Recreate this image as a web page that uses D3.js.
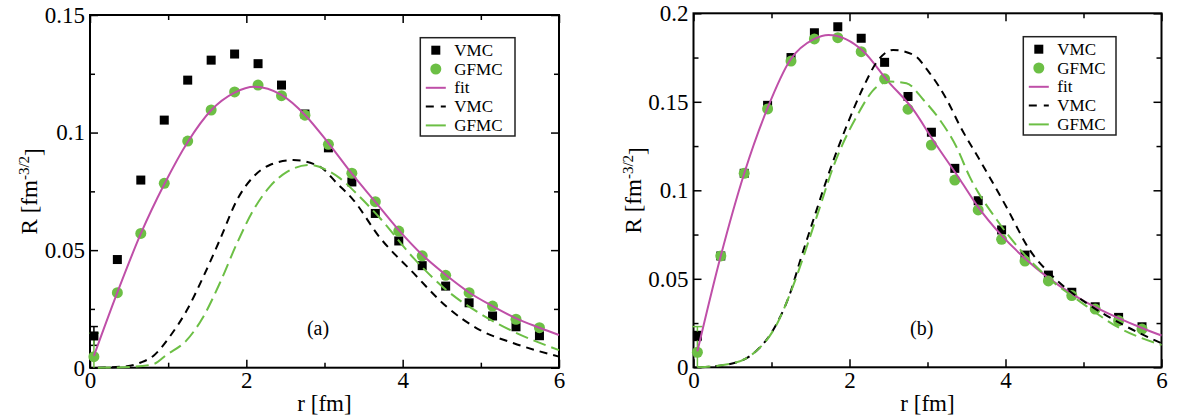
<!DOCTYPE html>
<html><head><meta charset="utf-8">
<script src="https://cdn.jsdelivr.net/npm/d3@7"></script>
<style>
body{margin:0;background:#fff}
svg{display:block}
text{font-family:"Liberation Serif","DejaVu Serif",serif;fill:#000}
</style>
</head><body>
<svg id="c" width="1178" height="419" font-family="Liberation Serif, DejaVu Serif, serif"></svg>
<script>
// ---------- data ----------
const rPoints = [0.05,0.35,0.65,0.95,1.25,1.55,1.85,2.15,2.45,2.75,3.05,3.35,3.65,3.95,4.25,4.55,4.85,5.15,5.45,5.75];

// panel (a)
const vmcA  = [0.0135,0.046,0.0798,0.1053,0.1223,0.1308,0.1334,0.1293,0.1202,0.1079,0.0935,0.079,0.0656,0.0539,0.0434,0.0347,0.0276,0.022,0.0174,0.0136];
const gfmcA = [0.0047,0.0319,0.0571,0.0784,0.0964,0.1096,0.1173,0.1202,0.1157,0.1074,0.095,0.0827,0.0706,0.0581,0.0476,0.0393,0.0319,0.0262,0.0206,0.017];
const vmcErrA  = [0.004,0,0,0,0,0,0,0,0,0,0,0,0,0,0,0,0,0,0,0];
const gfmcErrA = [0.010,0,0,0,0,0,0,0,0,0,0,0,0,0,0,0,0,0,0,0];
const fitRA  = [0.05,0.35,0.65,0.95,1.25,1.55,1.85,2.1,2.45,2.75,3.05,3.35,3.65,3.95,4.25,4.55,4.85,5.15,5.45,5.75,6.0];
const fitA   = [0.005,0.032,0.057,0.078,0.096,0.1095,0.117,0.1195,0.116,0.1075,0.0955,0.0825,0.0705,0.0585,0.048,0.0395,0.032,0.0262,0.021,0.017,0.0139];
const vmcCurveRA = [0.1,0.47,0.65,0.81,1.02,1.24,1.45,1.66,1.88,2.09,2.3,2.6,2.94,3.16,3.37,3.7,4.14,4.56,4.99,5.42,6.0];
const vmcCurveA  = [0,0.0006,0.0022,0.0050,0.0132,0.0245,0.0387,0.0543,0.0713,0.0812,0.0862,0.0883,0.0855,0.0784,0.0713,0.0557,0.0402,0.026,0.016,0.0104,0.0047];
const gfmcCurveRA = [0.1,0.5,0.81,0.98,1.24,1.45,1.66,1.88,2.09,2.3,2.52,2.81,3.07,3.2,3.45,3.7,4.14,4.56,4.99,5.42,6.0];
const gfmcCurveA  = [0,0.0003,0.0015,0.0055,0.0118,0.0217,0.0359,0.0529,0.067,0.077,0.0833,0.0862,0.0833,0.0805,0.0727,0.064,0.0466,0.033,0.023,0.0153,0.0075];

// panel (b)
const vmcB  = [0.0177,0.0629,0.1096,0.148,0.175,0.189,0.1924,0.1859,0.1723,0.153,0.1328,0.1124,0.0941,0.0776,0.0634,0.0521,0.0424,0.0342,0.0282,0.0229];
const gfmcB = [0.0085,0.0629,0.1096,0.146,0.173,0.1855,0.1862,0.1783,0.163,0.1458,0.1256,0.1058,0.0889,0.0723,0.06,0.0488,0.0405,0.0329,0.0263,0.0216];
const vmcErrB  = [0.0025,0,0,0,0,0,0,0,0,0,0,0,0,0,0,0,0,0,0,0];
const gfmcErrB = [0.0145,0,0,0,0,0,0,0,0,0,0,0,0,0,0,0,0,0,0,0];
const fitRB  = [0.05,0.35,0.65,0.95,1.24,1.55,1.73,2.18,2.48,2.82,3.07,3.42,3.65,3.95,4.25,4.55,4.85,5.15,5.45,5.75,6.0];
const fitB   = [0.009,0.063,0.1095,0.1465,0.1736,0.1855,0.1877,0.1784,0.1623,0.1454,0.1284,0.1058,0.0905,0.0745,0.0615,0.0505,0.0415,0.034,0.0278,0.0222,0.018];
const vmcCurveRB = [0.1,0.51,0.77,1.07,1.24,1.37,1.536,1.75,1.96,2.18,2.35,2.56,2.82,3.03,3.25,3.42,3.67,4.01,4.31,4.61,5.04,5.47,6.0];
const vmcCurveB  = [0,0.0023,0.0079,0.0249,0.042,0.0606,0.0832,0.1115,0.136,0.1585,0.1725,0.1793,0.1765,0.1661,0.151,0.136,0.1171,0.0907,0.0663,0.0512,0.0362,0.0249,0.0136];
const gfmcCurveRB = [0.05,0.51,0.77,1.07,1.24,1.58,1.79,2.09,2.35,2.52,2.73,2.95,3.16,3.37,3.54,3.89,4.23,4.53,4.96,5.47,6.0];
const gfmcCurveB  = [0,0.0023,0.0079,0.0245,0.0418,0.0851,0.113,0.1416,0.1585,0.1614,0.1605,0.151,0.1397,0.1246,0.1077,0.0832,0.0644,0.0512,0.037,0.022,0.0126];

// ticks and labels
const xTicks = [0,2,4,6];
const xMinorTicks = [1,3,5];
const yTicksA = [0,0.05,0.1,0.15];
const yMinorA = [0.025,0.075,0.125];
const yTicksB = [0,0.05,0.1,0.15,0.2];
const yMinorB = [0.025,0.075,0.125,0.175];
const legendLabels = ["VMC","GFMC","fit","VMC","GFMC"];
const panelLabels = ["(a)","(b)"];
const xTitle = "r [fm]";

// ---------- style ----------
const C_BLACK = "#000";
const C_GREEN = "#6cbf45";
const C_MAG = "#bf4fa8";
const FONT = 23;
const FAMILY = '"Liberation Serif","DejaVu Serif",serif';

const svg = d3.select("#c");

function zip(xs, ys){ return xs.map((x,i)=>({x, y: ys[i]})); }

function drawPanel(cfg){
  const x = d3.scaleLinear().domain([0,6]).range([cfg.x0, cfg.x1]);
  const y = d3.scaleLinear().domain([0,cfg.ymax]).range([cfg.y0, cfg.y1]);
  const g = svg.append("g");

  const styleAxis = sel => {
    sel.attr("font-family", FAMILY);
    sel.select(".domain").remove();
    sel.selectAll("line").attr("stroke","#000").attr("stroke-width",1.5);
    sel.selectAll("text").style("font-size",FONT+"px").style("font-family",FAMILY);
  };
  g.append("g").attr("transform",`translate(0,${cfg.y0})`)
    .call(d3.axisBottom(x).tickValues(xTicks).tickSize(-8).tickPadding(4).tickFormat(d3.format("d"))).call(styleAxis);
  g.append("g").attr("transform",`translate(0,${cfg.y0})`)
    .call(d3.axisBottom(x).tickValues(xMinorTicks).tickSize(-5).tickFormat("")).call(styleAxis);
  g.append("g").attr("transform",`translate(0,${cfg.y1})`)
    .call(d3.axisTop(x).tickValues(xTicks).tickSize(-8).tickFormat("")).call(styleAxis);
  g.append("g").attr("transform",`translate(0,${cfg.y1})`)
    .call(d3.axisTop(x).tickValues(xMinorTicks).tickSize(-5).tickFormat("")).call(styleAxis);
  g.append("g").attr("transform",`translate(${cfg.x0},0)`)
    .call(d3.axisLeft(y).tickValues(cfg.yTicks).tickSize(-8).tickPadding(5).tickFormat(d => d===0 ? "0" : String(d))).call(styleAxis);
  g.append("g").attr("transform",`translate(${cfg.x0},0)`)
    .call(d3.axisLeft(y).tickValues(cfg.yMinor).tickSize(-5).tickFormat("")).call(styleAxis);
  g.append("g").attr("transform",`translate(${cfg.x1},0)`)
    .call(d3.axisRight(y).tickValues(cfg.yTicks).tickSize(-8).tickFormat("")).call(styleAxis);
  g.append("g").attr("transform",`translate(${cfg.x1},0)`)
    .call(d3.axisRight(y).tickValues(cfg.yMinor).tickSize(-5).tickFormat("")).call(styleAxis);

  g.append("rect").attr("x",cfg.x0).attr("y",cfg.y1).attr("width",cfg.x1-cfg.x0).attr("height",cfg.y0-cfg.y1)
    .attr("fill","none").attr("stroke","#000").attr("stroke-width",2);

  const vmcPts = zip(rPoints, cfg.vmc);
  const gfmcPts = zip(rPoints, cfg.gfmc);

  const drawErr = (pts, errs, color, cap) => {
    pts.forEach((p,i) => {
      const e = errs[i]; if(!e) return;
      const lo = Math.max(0, p.y - e), hi = p.y + e;
      g.append("line").attr("x1",x(p.x)).attr("x2",x(p.x)).attr("y1",y(lo)).attr("y2",y(hi)).attr("stroke",color).attr("stroke-width",1.5);
      g.append("line").attr("x1",x(p.x)-cap).attr("x2",x(p.x)+cap).attr("y1",y(hi)).attr("y2",y(hi)).attr("stroke",color).attr("stroke-width",1.5);
      if (p.y - e > 0) g.append("line").attr("x1",x(p.x)-cap).attr("x2",x(p.x)+cap).attr("y1",y(lo)).attr("y2",y(lo)).attr("stroke",color).attr("stroke-width",1.5);
    });
  };
  drawErr(vmcPts, cfg.vmcErr, C_BLACK, 4);
  drawErr(gfmcPts, cfg.gfmcErr, C_GREEN, 5);

  const S = 9;
  g.selectAll(".sq").data(vmcPts).join("rect").attr("class","sq")
    .attr("x",d=>x(d.x)-S/2).attr("y",d=>y(d.y)-S/2).attr("width",S).attr("height",S).attr("fill",C_BLACK);
  g.selectAll(".ci").data(gfmcPts).join("circle").attr("class","ci")
    .attr("cx",d=>x(d.x)).attr("cy",d=>y(d.y)).attr("r",5.5).attr("fill",C_GREEN);

  const line = d3.line().x(d=>x(d.x)).y(d=>y(d.y)).curve(d3.curveMonotoneX);
  g.append("path").attr("d",line(zip(cfg.fitR,cfg.fit))).attr("fill","none").attr("stroke",C_MAG).attr("stroke-width",2);
  g.append("path").attr("d",line(zip(cfg.vmcCR,cfg.vmcC))).attr("fill","none").attr("stroke",C_BLACK).attr("stroke-width",2).attr("stroke-dasharray","8,6");
  g.append("path").attr("d",line(zip(cfg.gfmcCR,cfg.gfmcC))).attr("fill","none").attr("stroke",C_GREEN).attr("stroke-width",2).attr("stroke-dasharray","13,6");

  g.append("text").attr("x",cfg.labX).attr("y",cfg.labY).attr("text-anchor","middle").attr("dominant-baseline","central")
    .style("font-size","20px").text(cfg.label);

  g.append("text").attr("x",(cfg.x0+cfg.x1)/2).attr("y",411).attr("text-anchor","middle").style("font-size",FONT+"px").text(xTitle);

  const yt = g.append("text").attr("transform",`translate(${cfg.ytX},${(cfg.y0+cfg.y1)/2}) rotate(-90)`)
    .attr("text-anchor","middle").style("font-size",FONT+"px");
  yt.append("tspan").text("R [fm");
  yt.append("tspan").attr("dy","-0.55em").style("font-size","15px").text("-3/2");
  yt.append("tspan").attr("dy","0.55em").text("]");

  const L = cfg.legend;
  g.append("rect").attr("x",L.x).attr("y",L.y).attr("width",L.w).attr("height",L.h)
    .attr("fill","#fff").attr("stroke","#222").attr("stroke-width",1.5);
  legendLabels.forEach((lab,i) => {
    const ly = L.y + 12.5 + i*18.8;
    const sx = L.x + 15.5;
    if (i===0) g.append("rect").attr("x",sx-4.5).attr("y",ly-4.5).attr("width",9).attr("height",9).attr("fill",C_BLACK);
    if (i===1) g.append("circle").attr("cx",sx).attr("cy",ly).attr("r",5.5).attr("fill",C_GREEN);
    if (i>=2) {
      const col = i===2 ? C_MAG : (i===3 ? C_BLACK : C_GREEN);
      const ln = g.append("line").attr("x1",L.x+5.5).attr("x2",L.x+25.5).attr("y1",ly).attr("y2",ly).attr("stroke",col).attr("stroke-width",2);
      if (i===3) ln.attr("stroke-dasharray","8,7");
    }
    g.append("text").attr("x",L.x+34).attr("y",ly).attr("dominant-baseline","central").style("font-size","17px").text(lab);
  });
}

drawPanel({
  x0:90, x1:559, y0:367.7, y1:15, ymax:0.15, yTicks:yTicksA, yMinor:yMinorA,
  vmc:vmcA, gfmc:gfmcA, vmcErr:vmcErrA, gfmcErr:gfmcErrA,
  fitR:fitRA, fit:fitA, vmcCR:vmcCurveRA, vmcC:vmcCurveA, gfmcCR:gfmcCurveRA, gfmcC:gfmcCurveA,
  label:panelLabels[0], labX:318, labY:328, ytX:37,
  legend:{x:420.3, y:37.7, w:94.7, h:98.3}
});
drawPanel({
  x0:693.5, x1:1161.5, y0:367.3, y1:13.3, ymax:0.2, yTicks:yTicksB, yMinor:yMinorB,
  vmc:vmcB, gfmc:gfmcB, vmcErr:vmcErrB, gfmcErr:gfmcErrB,
  fitR:fitRB, fit:fitB, vmcCR:vmcCurveRB, vmcC:vmcCurveB, gfmcCR:gfmcCurveRB, gfmcC:gfmcCurveB,
  label:panelLabels[1], labX:921.7, labY:328, ytX:641,
  legend:{x:1023.3, y:36.7, w:92.7, h:98.3}
});
</script>
</body></html>
